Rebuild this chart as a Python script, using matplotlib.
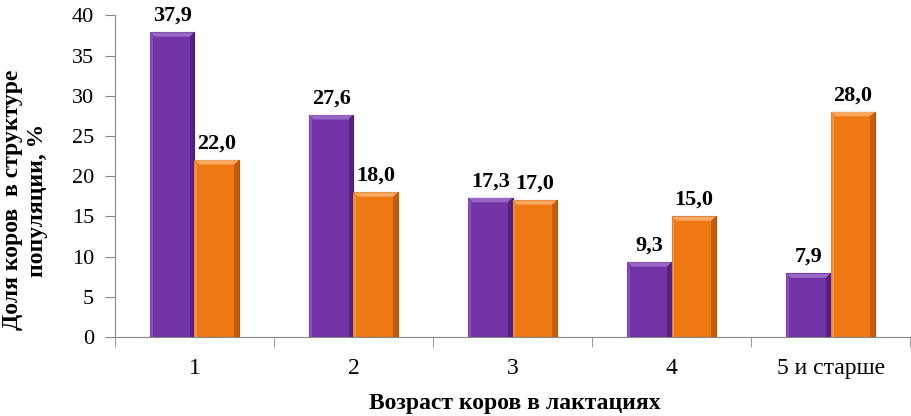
import matplotlib
matplotlib.use("Agg")
import matplotlib.pyplot as plt
from matplotlib.patches import Polygon
import numpy as np

categories = ["1", "2", "3", "4", "5 и старше"]
series_a = [37.9, 27.6, 17.3, 9.3, 7.9]
series_b = [22.0, 18.0, 17.0, 15.0, 28.0]
labels_a = ["37,9", "27,6", "17,3", "9,3", "7,9"]
labels_b = ["22,0", "18,0", "17,0", "15,0", "28,0"]

plt.rcParams['font.family'] = ['Liberation Serif', 'DejaVu Serif']

fig = plt.figure(figsize=(9.12, 4.16), dpi=100)
ax = fig.add_axes([0.126, 0.19, 0.872, 0.773])

x = np.arange(len(categories))
w = 0.28
ca, cb = "#7233A6", "#F07812"
ea, eb = "#4A1A70", "#B0520A"
la, lb = "#9A66C6", "#F8A860"
da, db = "#55207E", "#C25E0A"
ba = ax.bar(x - w/2, series_a, w, color=ca, edgecolor=ea, linewidth=0.8, zorder=2)
bb = ax.bar(x + w/2, series_b, w, color=cb, edgecolor=eb, linewidth=0.8, zorder=2)

ax.set_xlim(-0.5, len(categories) - 0.5)
ax.set_ylim(0, 40)

# bevel effect
bx, by = 0.03, 0.55
for rects, light, dark in ((ba, la, da), (bb, lb, db)):
    for r in rects:
        x0, x1 = r.get_x(), r.get_x() + r.get_width()
        h = r.get_height()
        top = Polygon([[x0, h], [x1, h], [x1 - bx, h - by], [x0 + bx, h - by]],
                      closed=True, facecolor=light, edgecolor="none", zorder=3)
        right = Polygon([[x1, h], [x1, 0], [x1 - bx, 0], [x1 - bx, h - by]],
                        closed=True, facecolor=dark, edgecolor="none", zorder=3)
        left = Polygon([[x0, h], [x0, 0], [x0 + bx * 0.6, 0], [x0 + bx * 0.6, h - by]],
                       closed=True, facecolor=light, edgecolor="none", alpha=0.6, zorder=3)
        for p in (top, right, left):
            ax.add_patch(p)

for rects, labs in ((ba, labels_a), (bb, labels_b)):
    for r, lab in zip(rects, labs):
        ax.text(r.get_x() + r.get_width()/2, r.get_height() + 0.8, lab,
                ha="center", va="bottom", fontsize=16, fontweight="bold", zorder=4)

ax.set_yticks(np.arange(0, 41, 5))
ax.set_xticks(x)
ax.set_xticklabels(categories)
ax.set_xticks(np.arange(-0.5, len(categories), 1), minor=True)
ax.tick_params(axis="x", which="major", length=0, labelsize=17, pad=15)
ax.tick_params(axis="x", which="minor", length=7, color="#888888")
ax.tick_params(axis="y", labelsize=16, length=7, color="#888888", pad=8)
for s in ("top", "right"):
    ax.spines[s].set_visible(False)
for s in ("left", "bottom"):
    ax.spines[s].set_color("#888888")

fig.text(515 / 912, 1 - 403 / 416, "Возраст коров в лактациях",
         ha="center", va="center", fontsize=17, fontweight="bold")
fig.text(25 / 912, 1 - 200 / 416, "Доля коров  в структуре\nпопуляции, %",
         rotation=90, ha="center", va="center", multialignment="center",
         fontsize=17, fontweight="bold")

fig.savefig("out.png", dpi=100)
